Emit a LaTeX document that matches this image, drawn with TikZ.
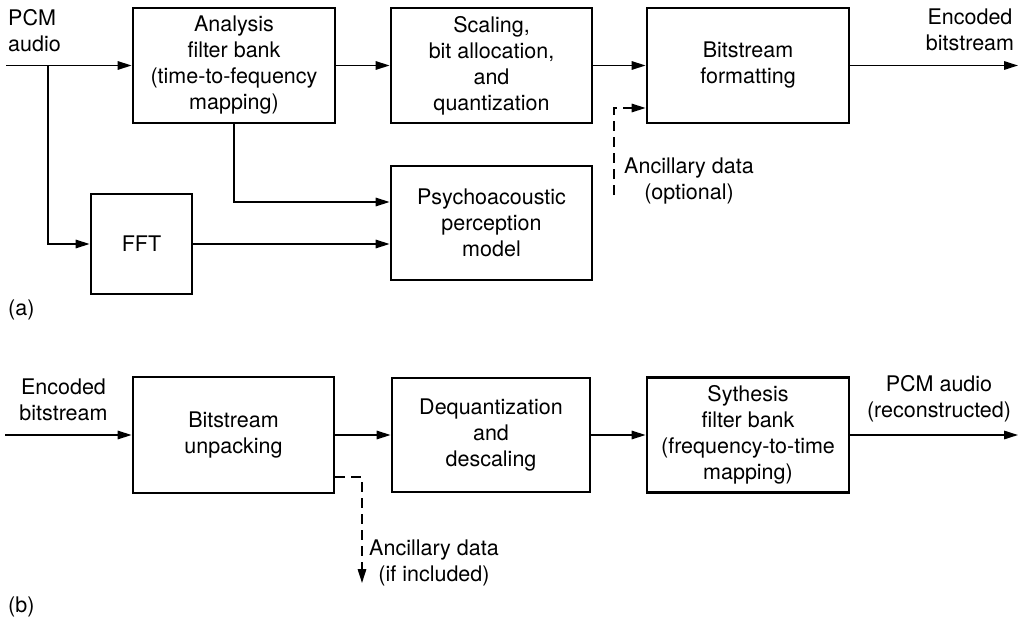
\documentclass[tikz,border=0pt]{standalone}
\usepackage{fontspec}
\setmainfont{TeX Gyre Heros}
\usetikzlibrary{arrows.meta}
\usetikzlibrary{calc}

\begin{document}
\begin{tikzpicture}[x=1pt, y=-1pt,
  blk/.style={draw, line width=2.8pt, rectangle, align=center, inner sep=0},
  flow/.style={line width=1.6pt, -{Triangle[length=14pt, width=8.5pt]}},
  lbl/.style={align=center, inner sep=0},
  every node/.append style={font=\fontsize{21.5}{26}\selectfont}]
\useasboundingbox (0,0) rectangle (1020,623);
\node[blk, minimum width=202, minimum height=115] (ana) at (234,65.5) {Analysis\\filter bank\\(time-to-fequency\\mapping)};
\node[blk, minimum width=201, minimum height=115] (scl) at (491.5,65.5) {Scaling,\\bit allocation,\\and\\quantization};
\node[blk, minimum width=202, minimum height=115] (fmt) at (748,65.5) {Bitstream\\formatting};
\node[blk, minimum width=201, minimum height=114] (psy) at (491.5,223) {Psychoacoustic\\perception\\model};
\node[blk, minimum width=101, minimum height=100] (fft) at (141.5,244) {FFT};
\node[lbl, anchor=west, align=left] (pcm) at (8,30.5) {PCM\\audio};
\node[lbl] (enc) at (970,30) {Encoded\\bitstream};
\node[lbl] (ancopt) at (689,181.5) {Ancillary data\\(optional)};
\node[lbl, anchor=west] (la) at (8,310) {(a)};
\coordinate (in) at (6,65.5);
\coordinate (br) at (48,65.5);
\coordinate (out) at (1018,65.5);
\coordinate (anc) at (614,195);
\draw[flow] (in) -- (ana.west);
\draw[flow] (br) |- (fft.west);
\draw[flow] (fmt.east) -- (out);
\draw[flow] (ana.south) |- ([yshift=21pt]psy.west);
\draw[flow] (fft.east) -- (psy.west |- fft.east);
\draw[flow, dash pattern=on 10pt off 6pt] (anc) |- ([yshift=-42.5pt]fmt.west);

\node[blk, minimum width=201, minimum height=116] (unp) at (233.5,435) {Bitstream\\unpacking};
\node[blk, minimum width=198, minimum height=114] (deq) at (491,435) {Dequantization\\and\\descaling};
\node[blk, minimum width=202, minimum height=115] (syn) at (748,435) {Sythesis\\filter bank\\(frequency-to-time\\mapping)};
\node[lbl] (enc2) at (63.5,399.5) {Encoded\\bitstream};
\node[lbl] (pcmout) at (939,399) {PCM audio\\(reconstructed)};
\node[lbl] (ancinc) at (434,562.5) {Ancillary data\\(if included)};
\node[lbl, anchor=west] (lb) at (8,607) {(b)};
\coordinate (in2) at (5,435);
\coordinate (out2) at (1018,435);
\coordinate (anc2) at (362,583);
\draw[flow] (in2) -- (unp.west);
\draw[flow] (syn.east) -- (out2);
\draw[flow, dash pattern=on 10pt off 6pt] ([yshift=-42pt]unp.east) -| (anc2);

\foreach \a/\b in {ana/scl, scl/fmt, unp/deq, deq/syn}
  \draw[flow] (\a.east) -- (\b.west);
\end{tikzpicture}
\end{document}
